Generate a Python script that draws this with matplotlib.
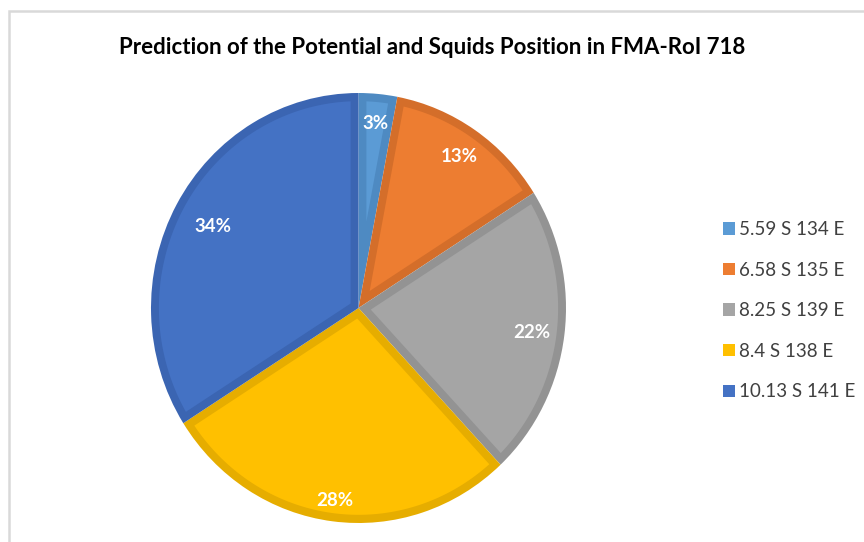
import numpy as np
import matplotlib.pyplot as plt
from matplotlib.patches import Patch, Polygon, Rectangle

# data
positions = ["5.59 S 134 E", "6.58 S 135 E", "8.25 S 139 E", "8.4 S 138 E", "10.13 S 141 E"]
shares = [3, 13, 22, 28, 34]
colors = ["#5B9BD5", "#ED7D31", "#A5A5A5", "#FFC000", "#4472C4"]
edge_colors = ["#4E8AC2", "#D46E2A", "#939393", "#E6AD00", "#3B65B2"]
label_dist = [0.87, 0.86, 0.84, 0.895, 0.80]  # Excel "best fit" placement

plt.rcParams["font.family"] = ["Lato", "DejaVu Sans"]

W, H = 864, 542
fig = plt.figure(figsize=(W / 100, H / 100), dpi=100)

# light frame of the chart area (only left/top edges visible)
fig.add_artist(Rectangle((9 / W, -0.1), 1.2, 1.1 - 11 / H, transform=fig.transFigure,
                         fill=False, edgecolor="#D9D9D9", linewidth=1.8))

ax = fig.add_axes([151 / W, 19 / H, 415 / W, 430 / H])
# outer wedges carry the darker border colour
wedges, texts, autotexts = ax.pie(
    shares, colors=edge_colors, startangle=90, counterclock=False,
    autopct="%1.0f%%", pctdistance=0.85, radius=1,
    textprops=dict(color="white", fontsize=13.5, fontweight="bold", zorder=5),
    wedgeprops=dict(linewidth=0),
)


def inner_face(t1, t2, r=1.0, d=0.038):
    # wedge shrunk by a border of width d on all sides
    a1, a2 = np.radians(t1), np.radians(t2)
    half = (a2 - a1) / 2
    mid = a1 + half
    rho = r - d
    apex = d / np.sin(half)
    off = np.arcsin(d / rho)
    phi = np.linspace(a1 + off, a2 - off, 80)
    pts = [(apex * np.cos(mid), apex * np.sin(mid))]
    pts += list(zip(rho * np.cos(phi), rho * np.sin(phi)))
    return pts


for w, c, t, dist in zip(wedges, colors, autotexts, label_dist):
    ax.add_patch(Polygon(inner_face(w.theta1, w.theta2), closed=True,
                         facecolor=c, edgecolor="none", zorder=3))
    mid = np.radians((w.theta1 + w.theta2) / 2)
    t.set_position((dist * np.cos(mid), dist * np.sin(mid)))
    t.set_verticalalignment("center_baseline")

ax.set_xlim(-1, 1)
ax.set_ylim(-1, 1)
ax.set_aspect("auto")
ax.axis("off")

fig.text(432 / W, 1 - 47 / H, "Prediction of the Potential and Squids Position in FMA-RoI 718",
         ha="center", va="center", fontsize=16, fontweight="bold", color="black")

handles = [Patch(facecolor=c, edgecolor="none") for c in colors]
fig.legend(handles, positions, loc="upper left", bbox_to_anchor=(706 / W, 1 - 204 / H),
           frameon=False, fontsize=13.5, labelcolor="#404040", handlelength=0.65,
           handleheight=0.65, handletextpad=0.2, labelspacing=1.26)

fig.savefig("out.png", dpi=100)
